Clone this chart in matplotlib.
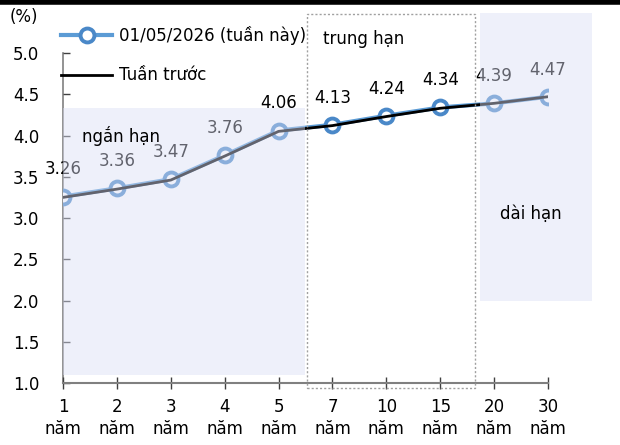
import matplotlib
matplotlib.use("Agg")
from matplotlib import pyplot as plt
from matplotlib.patches import Rectangle
from matplotlib.lines import Line2D

# ky han
ky_han = ["1", "2", "3", "4", "5", "7", "10", "15", "20", "30"]
tuan_nay = [3.26, 3.36, 3.47, 3.76, 4.06, 4.13, 4.24, 4.34, 4.39, 4.47]
tuan_truoc = [3.25, 3.35, 3.46, 3.75, 4.05, 4.12, 4.23, 4.33, 4.39, 4.47]
ten_tuan_nay = "01/05/2026 (tuần này)"
ten_tuan_truoc = "Tuần trước"

plt.rcParams['font.family'] = ['DejaVu Sans']
fs = 12

fig = plt.figure(figsize=(6.2, 4.45), dpi=100)
ax = fig.add_axes([0.1016, 0.1393, 0.7823, 0.7416])

x = list(range(len(ky_han)))
ax.plot(x, tuan_nay, color='#5b9bd5', lw=3, marker='o', ms=10,
        mfc='white', mec='#4a88c8', mew=2.8, zorder=3, label=ten_tuan_nay)
ax.plot(x, tuan_truoc, color='black', lw=2, zorder=3.5, label=ten_tuan_truoc)
for xi, v in zip(x, tuan_nay):
    ax.annotate(f"{v:.2f}", (xi, v), xytext=(0, 13), textcoords='offset points',
                ha='center', va='bottom', fontsize=fs, color='black', zorder=3.6)

# vung ngan han / dai han (phu len, ban trong suot)
lav = (218/255, 222/255, 244/255)
ax.add_patch(Rectangle((0, 1.1), 4.49, 3.23, facecolor=lav, edgecolor='none',
                       alpha=0.45, zorder=4, clip_on=False))
ax.add_patch(Rectangle((7.74, 2.0), 2.07, 3.48, facecolor=lav, edgecolor='none',
                       alpha=0.45, zorder=4, clip_on=False))
ax.add_patch(Rectangle((4.53, 0.94), 3.11, 4.53, facecolor='none', edgecolor='#a0a0a0',
                       lw=1, ls=(0, (1.5, 1.5)), zorder=4, clip_on=False))

ax.text(0.35, 4.0, "ngắn hạn", fontsize=fs, ha='left', va='center', zorder=5)
ax.text(4.83, 5.17, "trung hạn", fontsize=fs, ha='left', va='center', zorder=5, clip_on=False)
ax.text(8.1, 3.05, "dài hạn", fontsize=fs, ha='left', va='center', zorder=5)

ax.set_xlim(0, 9)
ax.set_ylim(1.0, 5.0)
ax.set_xticks(x)
ax.set_xticklabels([k + "\nnăm" for k in ky_han], fontsize=fs, linespacing=1.25)
ax.set_yticks([1.0, 1.5, 2.0, 2.5, 3.0, 3.5, 4.0, 4.5, 5.0])
ax.set_yticklabels([f"{t:.1f}" for t in ax.get_yticks()], fontsize=fs)
ax.tick_params(axis='x', direction='inout', length=8, width=1, color='#404040', pad=7)
ax.tick_params(axis='y', direction='in', length=5, width=1, color='#404040', pad=17)
for s in ['top', 'right']:
    ax.spines[s].set_visible(False)
ax.spines['bottom'].set_color('#808080')
ax.spines['bottom'].set_linewidth(1.5)
ax.spines['left'].set_color('#808080')
ax.spines['left'].set_linewidth(1.2)
ax.spines['left'].set_zorder(1)

fig.text(0.016, 0.962, "(%)", fontsize=fs, ha='left', va='center')

fig.legend(loc='upper left', bbox_to_anchor=(0.098, 0.942), frameon=False, fontsize=fs,
           borderpad=0, borderaxespad=0, labelspacing=1.3, handlelength=3.1,
           handletextpad=0.4)

fig.add_artist(Line2D([0, 1], [0.995, 0.995], color='black', lw=4,
                      transform=fig.transFigure))

fig.savefig("out.png", dpi=100)
